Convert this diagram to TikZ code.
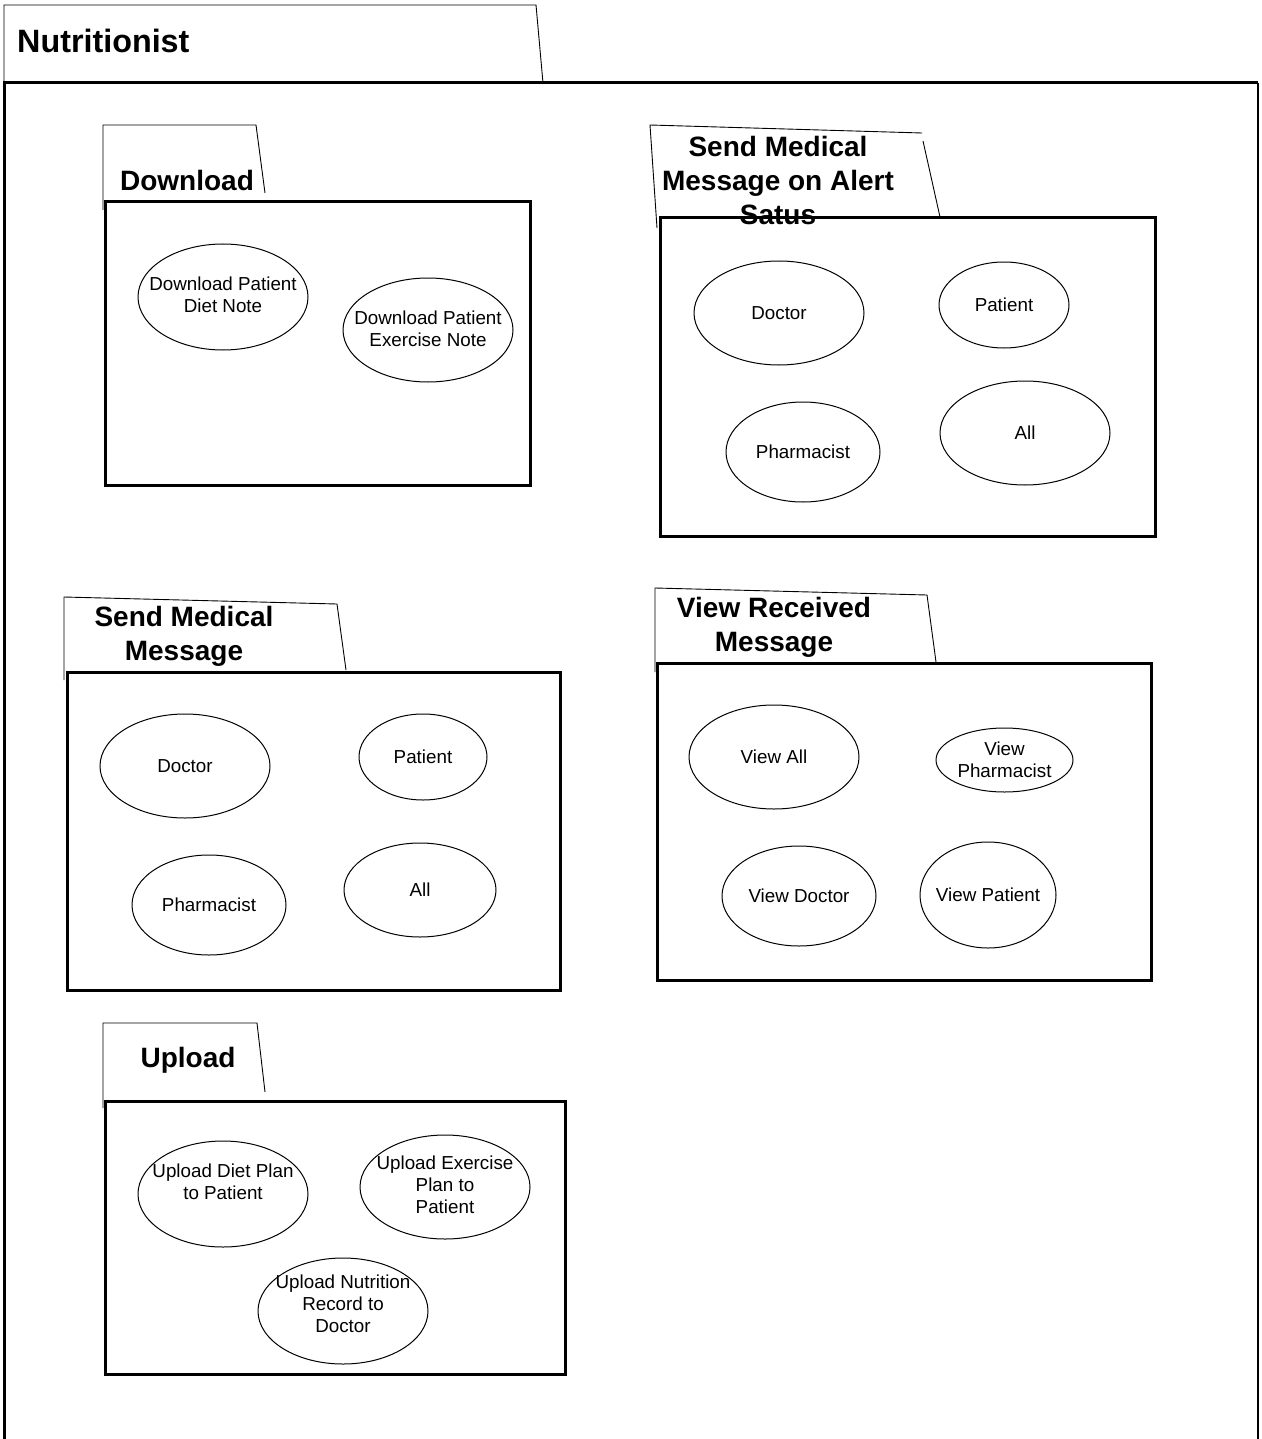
\documentclass[tikz,border=0pt]{standalone}
\usepackage{fontspec}
\setmainfont{Liberation Sans}
\usetikzlibrary{shapes.geometric}
\begin{document}
\begin{tikzpicture}[x=1pt,y=-1pt,
  frameline/.style={line width=3pt},
  tabline/.style={line width=0.9pt},
  pkgbox/.style={draw,line width=3pt,rectangle,inner sep=0pt},
  pkgtitle/.style={font=\fontsize{28}{34}\selectfont\bfseries,align=center,inner sep=0pt},
  uc/.style={draw,ellipse,line width=1pt,inner sep=0pt},
  uctext/.style={font=\fontsize{18.8}{22}\selectfont,align=center,inner sep=0pt}]
\useasboundingbox (0,0) rectangle (1261,1439);

% outer package: Nutritionist
\coordinate (ntl) at (4,83);
\coordinate (ntr) at (1258,83);
\draw[frameline] (4,1439) -- (ntl) -- (ntr);
\draw[line width=1.8pt] (ntr) -- (1258,1439);
\draw[tabline] (ntl) -- (4,5) -- (536,5) -- (543,83);
\node[font=\fontsize{32.3}{38}\selectfont\bfseries,anchor=base west,inner sep=0pt] (ntitle) at (17,53) {Nutritionist};

% Download
\node[pkgbox,minimum width=425pt,minimum height=283pt] (dl) at (317.5,343.5) {};
\draw[tabline] (103,210) -- (103,125) -- (256,125) -- (265,193);
\node[pkgtitle] (dlt) at (187,180) {Download};
\node[uc,minimum width=170pt,minimum height=106pt,
  label={[uctext,yshift=2pt]center:Download Patient\\Diet Note}] (dl1) at (223,297) {};
\node[uc,minimum width=170pt,minimum height=104pt,
  label={[uctext,yshift=1pt]center:Download Patient\\Exercise Note}] (dl2) at (428,330) {};

% Send Medical Message on Alert Satus
\node[pkgbox,minimum width=495pt,minimum height=318pt] (al) at (907.5,377) {};
\draw[tabline] (657,228) -- (650,125) -- (922,133);
\draw[tabline] (923,141) -- (940,217);
\node[pkgtitle] (alt) at (778,180) {Send Medical\\Message on Alert\\Satus};
\node[uc,minimum width=170pt,minimum height=104pt,label={[uctext]center:Doctor}] (al1) at (779,313) {};
\node[uc,minimum width=130pt,minimum height=86pt,label={[uctext]center:Patient}] (al2) at (1004,305) {};
\node[uc,minimum width=154pt,minimum height=100pt,label={[uctext]center:Pharmacist}] (al3) at (803,452) {};
\node[uc,minimum width=170pt,minimum height=104pt,label={[uctext]center:All}] (al4) at (1025,433) {};

% Send Medical Message
\node[pkgbox,minimum width=493pt,minimum height=318pt] (sm) at (313.5,831) {};
\draw[tabline] (64,680) -- (64,597) -- (337,604) -- (346,670);
\node[pkgtitle] (smt) at (184,636) {Send Medical\\Message};
\node[uc,minimum width=170pt,minimum height=104pt,label={[uctext]center:Doctor}] (sm1) at (185,766) {};
\node[uc,minimum width=128pt,minimum height=86pt,label={[uctext]center:Patient}] (sm2) at (423,757) {};
\node[uc,minimum width=154pt,minimum height=100pt,label={[uctext]center:Pharmacist}] (sm3) at (209,905) {};
\node[uc,minimum width=152pt,minimum height=94pt,label={[uctext]center:All}] (sm4) at (420,890) {};

% View Received Message
\node[pkgbox,minimum width=494pt,minimum height=317pt] (vr) at (904,821.5) {};
\draw[tabline] (655,672) -- (655,588) -- (927,595) -- (936,662);
\node[pkgtitle] (vrt) at (774,627) {View Received\\Message};
\node[uc,minimum width=170pt,minimum height=104pt,label={[uctext]center:View All}] (vr1) at (774,757) {};
\node[uc,minimum width=137pt,minimum height=64pt,label={[uctext]center:View\\Pharmacist}] (vr2) at (1004.5,760) {};
\node[uc,minimum width=154pt,minimum height=100pt,label={[uctext]center:View Doctor}] (vr3) at (799,896) {};
\node[uc,minimum width=136pt,minimum height=106pt,label={[uctext]center:View Patient}] (vr4) at (988,895) {};

% Upload
\node[pkgbox,minimum width=460pt,minimum height=273pt] (up) at (335,1237.5) {};
\draw[tabline] (103,1108) -- (103,1023) -- (257,1023) -- (265,1092);
\node[pkgtitle] (upt) at (188,1060) {Upload};
\node[uc,minimum width=170pt,minimum height=106pt,
  label={[uctext,yshift=12pt]center:Upload Diet Plan\\to Patient}] (up1) at (223,1194) {};
\node[uc,minimum width=170pt,minimum height=104pt,
  label={[uctext,yshift=2pt]center:Upload Exercise\\Plan to\\Patient}] (up2) at (445,1187) {};
\node[uc,minimum width=170pt,minimum height=106pt,
  label={[uctext,yshift=7pt]center:Upload Nutrition\\Record to\\Doctor}] (up3) at (343,1311) {};
\end{tikzpicture}
\end{document}
